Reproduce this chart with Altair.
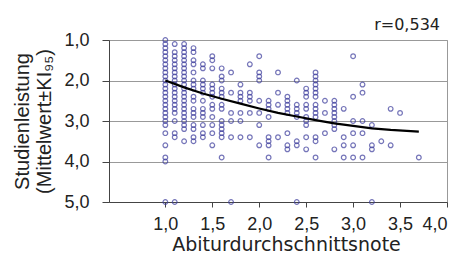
import altair as alt
import pandas as pd

# Abiturdurchschnittsnote (x) of each column of points
spalten_note = [1.0, 1.1, 1.2, 1.3, 1.4, 1.5, 1.6, 1.7, 1.8, 1.9, 2.0, 2.1, 2.2, 2.3,
                2.4, 2.5, 2.6, 2.7, 2.8, 2.9, 3.0, 3.1, 3.2, 3.3, 3.4, 3.5, 3.7]
# Studienleistung values in each column
spalten_leistung = [
    [1.0, 1.1, 1.2, 1.3, 1.4, 1.5, 1.6, 1.7, 1.8, 1.9, 2.0, 2.1, 2.2, 2.3, 2.4, 2.5,
     2.6, 2.7, 2.8, 2.9, 3.0, 3.1, 3.3, 3.6, 3.9, 4.0, 5.0],
    [1.1, 1.3, 1.4, 1.5, 1.6, 1.7, 1.8, 1.9, 2.0, 2.1, 2.2, 2.3, 2.4, 2.5, 2.6, 2.7,
     2.8, 3.0, 3.3, 3.4, 5.0],
    [1.1, 1.2, 1.3, 1.4, 1.5, 1.6, 1.7, 1.8, 1.9, 2.0, 2.1, 2.2, 2.3, 2.4, 2.5, 2.6,
     2.7, 2.8, 2.9, 3.0, 3.1, 3.2, 3.5],
    [1.2, 1.3, 1.5, 1.6, 1.8, 2.0, 2.1, 2.2, 2.4, 2.5, 2.7, 2.8, 2.9, 3.1, 3.2, 3.4, 3.5],
    [1.6, 1.7, 2.0, 2.1, 2.2, 2.3, 2.5, 2.7, 2.8, 2.9, 3.1, 3.3, 3.4],
    [1.4, 1.5, 1.7, 2.1, 2.2, 2.3, 2.4, 2.6, 2.7, 2.9, 3.1, 3.3, 3.6],
    [1.7, 1.9, 2.0, 2.2, 2.3, 2.4, 2.6, 2.7, 3.0, 3.1, 3.2, 3.3, 3.4, 3.9],
    [1.8, 2.3, 2.8, 3.0, 3.4, 5.0],
    [2.1, 2.3, 2.4, 2.5, 2.8, 3.0, 3.4],
    [1.6, 2.3, 2.4, 2.5, 2.8, 3.4],
    [1.4, 1.8, 1.9, 2.0, 2.5, 2.8, 3.1, 3.6],
    [2.5, 2.6, 2.7, 2.9, 3.4, 3.5, 3.6, 3.9],
    [1.8, 2.3, 2.6, 3.4],
    [2.4, 2.5, 2.6, 2.7, 2.8, 3.3, 3.6, 3.7],
    [2.0, 2.6, 2.7, 2.8, 2.9, 3.5, 3.6, 5.0],
    [2.2, 2.3, 2.4, 2.6, 2.7, 2.9, 3.0, 3.1, 3.4, 3.7],
    [1.8, 1.9, 2.0, 2.1, 2.2, 2.3, 2.4, 2.6, 2.7, 2.8, 2.9, 3.4, 3.5, 3.9],
    [2.5, 2.8, 3.3],
    [2.5, 2.6, 2.7, 2.8, 2.9, 3.0, 3.1, 3.2, 3.7],
    [2.7, 3.4, 3.6, 3.9],
    [1.4, 2.4, 3.0, 3.3, 3.6, 3.9],
    [2.1, 2.3, 3.0, 3.3, 3.9],
    [3.1, 3.6, 3.7, 5.0],
    [3.5],
    [2.7, 3.6],
    [2.8],
    [3.9],
]

# fitted curve
kurve_note = [1.0, 1.2, 1.4, 1.6, 1.8, 2.0, 2.2, 2.4, 2.6, 2.8, 3.0, 3.2, 3.4, 3.7]
kurve_leistung = [2.0, 2.17, 2.32, 2.45, 2.57, 2.69, 2.8, 2.89, 2.98, 3.06, 3.12, 3.18, 3.22, 3.26]

x_ticks = [1.0, 1.5, 2.0, 2.5, 3.0, 3.5, 4.0]
y_ticks = [1.0, 2.0, 3.0, 4.0, 5.0]

r_text = ["r=0,534"]
r_pos_note = [4.0]
r_pos_leistung = [1.0]

rows = [{"note": n, "leistung": v}
        for n, vals in zip(spalten_note, spalten_leistung) for v in vals]
punkte = pd.DataFrame(rows)
kurve = pd.DataFrame({"note": kurve_note, "leistung": kurve_leistung})
anno = pd.DataFrame({"note": r_pos_note, "leistung": r_pos_leistung, "text": r_text})

FONT = "Liberation Sans"
WIDE = "DejaVu Sans"
label_expr = "replace(format(datum.value, '.1f'), '.', ',')"

xscale = alt.Scale(domain=[0.4, 4.0], nice=False, zero=False)
yscale = alt.Scale(domain=[1.0, 5.0], reverse=True, nice=False, zero=False)

x_enc = alt.X("note:Q", scale=xscale, axis=alt.Axis(
    values=x_ticks, labelExpr=label_expr, grid=False,
    title="Abiturdurchschnittsnote", tickSize=5, labelPadding=8,
    labelFontSize=18, titleFontSize=19, titleFontWeight="normal",
    titleX=177, titleY=48, titleBaseline="alphabetic", titleAlign="center",
    domainColor="#444", tickColor="#444", labelColor="#222", titleColor="#222",
    labelFont=FONT, titleFont=WIDE))

y_enc = alt.Y("leistung:Q", scale=yscale, axis=alt.Axis(
    values=y_ticks, labelExpr=label_expr, grid=True, gridColor="#999",
    title=["Studienleistung", "(Mittelwert±KI₉₅)"], tickSize=7, labelPadding=13,
    labelFontSize=18, titleFontSize=20, titleFontWeight="normal",
    titleAngle=270, titleX=-97, titleY=81, titleAlign="center",
    titleBaseline="top", titleLineHeight=22,
    domainColor="#444", tickColor="#444", labelColor="#222", titleColor="#222",
    labelFont=FONT, titleFont=FONT))

pts = alt.Chart(punkte).mark_point(
    shape="circle", filled=False, size=22, strokeWidth=1.2, color="#3c3c9c"
).encode(x=x_enc, y=y_enc)

line = alt.Chart(kurve).mark_line(color="black", strokeWidth=2.2).encode(
    x=alt.X("note:Q", scale=xscale), y=alt.Y("leistung:Q", scale=yscale))

txt = alt.Chart(anno).mark_text(
    align="right", baseline="alphabetic", dx=-7, dy=-10,
    fontSize=16, font=WIDE, color="#222"
).encode(x=alt.X("note:Q", scale=xscale), y=alt.Y("leistung:Q", scale=yscale),
         text="text:N")

chart = alt.layer(pts, line, txt).properties(
    width=338, height=162,
    autosize=alt.AutoSizeParams(type="none"),
    padding={"left": 101, "top": 32, "right": 7, "bottom": 54},
).configure_view(stroke="#999", strokeWidth=1)

chart.save("out.html", embed_options={"renderer": "svg", "actions": False})
